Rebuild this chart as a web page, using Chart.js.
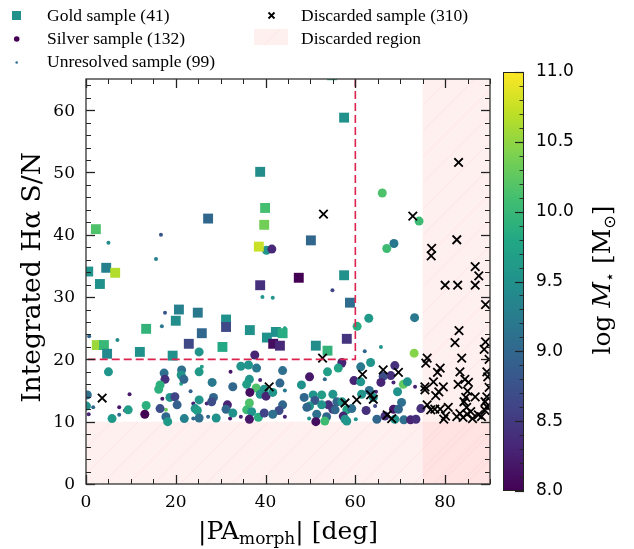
<!DOCTYPE html>
<html><head><meta charset="utf-8">
<script src="https://cdn.jsdelivr.net/npm/chart.js@4.4.0/dist/chart.umd.min.js"></script>
<style>html,body{margin:0;padding:0;background:#fff;}</style>
</head><body>
<canvas id="c" width="634" height="549"></canvas>
<script>
// ---------------- DATA ----------------
const xTicks = [0, 20, 40, 60, 80];
const yTicks = [0, 10, 20, 30, 40, 50, 60];
const cbTicks = [8.0, 8.5, 9.0, 9.5, 10.0, 10.5, 11.0];
const legendLabels = ["Gold sample (41)", "Silver sample (132)", "Unresolved sample (99)", "Discarded sample (310)", "Discarded region"];

const goldX = [54.8,57.5,38.8,39.9,39.7,50.1,27.2,2.2,38.5,47.4,57.5,38.8,58.8,0.5,4.5,6.5,3.1,20.7,24.9,20.0,13.4,31.2,31.2,25.8,36.5,40.3,42.3,43.8,41.7,43.2,30.4,51.2,53.8,58.1,2.4,4.0,4.7,22.9,12.0,19.3];
const goldY = [65.6,58.8,50.1,44.3,41.6,39.1,42.6,40.9,38.1,33.1,33.5,31.9,29.1,34.1,34.7,33.9,32.1,28.0,27.5,26.2,24.9,26.4,25.2,24.2,24.7,23.5,24.4,24.2,22.5,22.2,22.0,22.2,21.4,23.3,22.3,22.3,20.9,22.5,21.2,20.6];
const goldM = [9.9,9.5,9.45,10.1,10.35,9.0,9.0,10.15,10.75,8.0,9.5,8.4,9.05,9.55,9.3,10.65,9.5,9.3,9.2,9.45,9.95,9.5,8.65,9.0,9.5,9.5,9.5,9.85,8.1,8.35,9.8,9.45,9.95,8.45,10.55,10.0,9.4,8.65,9.5,9.5];

const silverX = [66.0,74.2,68.6,67.0,40.2,41.4,63.0,60.4,73.2,73.1,37.6,57.0,25.2,5.0,17.4,21.3,21.2,21.8,17.6,25.2,28.1,16.5,16.2,0.3,18.7,19.8,28.4,28.0,25.2,0.1,9.4,13.4,16.5,20.3,24.3,24.8,13.1,17.8,5.8,18.2,21.9,25.2,29.0,34.5,36.2,38.0,43.8,32.7,36.4,35.8,37.9,39.7,38.8,40.1,41.6,43.2,36.5,31.5,36.4,35.8,36.9,38.4,36.4,31.2,32.7,39.7,43.8,43.0,41.6,48.0,49.8,53.8,56.2,59.7,48.6,50.6,52.5,51.0,55.0,55.9,54.0,52.5,49.8,49.2,57.0,55.0,58.1,59.2,51.4,53.6,51.2,53.2,57.3,58.1,61.2,63.4,68.8,67.9,66.2,65.7,70.7,71.6,61.2,63.1,64.0,61.4,69.4,62.4,70.3,68.5,69.6,74.6,57.7,64.8,66.6,68.8,70.8,72.3,73.5,55.5];
const silverY = [46.7,42.2,38.6,37.8,37.5,37.7,26.6,25.3,26.7,21.0,20.7,19.5,21.2,18.0,17.8,18.3,17.5,16.8,16.8,18.0,16.3,15.9,15.2,14.3,13.9,14.0,13.9,13.2,13.5,12.5,11.9,12.6,12.1,12.7,12.1,11.8,11.2,10.8,10.5,10.0,10.5,10.6,10.6,18.9,19.1,18.6,18.2,15.6,16.8,16.0,15.4,15.2,14.4,14.1,14.7,16.2,14.7,12.7,13.0,11.9,11.6,10.7,10.4,12.0,11.4,11.4,12.7,11.8,11.2,15.9,17.2,18.0,18.6,16.6,13.9,14.3,14.3,13.4,14.4,13.2,12.7,12.7,12.5,12.3,13.2,12.0,11.9,12.1,11.2,10.8,10.0,10.1,10.9,10.1,18.8,19.5,19.0,17.4,17.3,16.3,16.0,16.4,16.4,15.0,13.9,14.4,14.8,11.8,13.1,12.0,12.0,12.1,10.4,10.4,10.9,10.4,10.3,10.3,10.4,11.9];
const silverM = [10.15,10.05,9.2,10.05,9.55,8.35,9.6,9.85,9.2,10.45,8.3,8.3,9.55,9.55,9.1,9.1,9.55,9.0,8.4,9.6,9.2,9.9,9.9,9.1,9.55,8.6,9.0,8.7,9.55,9.5,9.65,9.9,8.7,8.9,9.55,9.65,8.0,9.0,9.6,9.6,9.3,9.1,9.5,9.55,9.55,9.2,9.1,9.0,9.55,9.65,10.15,9.55,9.55,8.3,9.55,9.0,8.1,8.3,10.15,10.05,9.55,9.85,8.2,9.0,9.5,8.6,9.0,8.7,9.1,9.5,8.2,9.65,9.75,8.3,9.0,9.55,9.65,8.8,9.55,9.0,8.4,9.55,9.55,9.0,9.55,8.4,9.75,9.1,9.1,9.0,8.1,10.05,8.3,9.55,9.2,9.55,8.4,8.4,8.7,8.3,10.25,9.5,9.55,9.1,9.55,9.55,9.5,8.4,9.1,8.2,9.0,8.4,9.55,9.0,8.4,9.55,9.1,8.3,8.4,9.0];

const unresX = [16.7,5.0,15.6,17.6,16.9,54.9,39.3,41.6,44.3,0.7,7.0,25.8,21.2,23.3,9.7,17.0,23.9,26.9,1.6,7.4,8.7,17.8,0.6,7.4,23.9,27.2,32.2,38.8,44.3,32.1,44.3,53.2,57.3,60.1,49.7,65.7,62.1,64.6,68.5,73.3,64.4,34.5];
const unresY = [40.0,38.7,36.1,27.5,25.3,31.1,30.0,29.9,25.0,23.7,23.1,18.8,16.1,14.9,14.4,13.7,12.9,12.9,12.3,12.3,11.8,11.9,11.2,11.1,10.5,10.8,18.0,16.7,15.0,10.5,10.8,16.8,19.0,10.4,10.5,22.0,21.3,14.8,16.3,15.6,12.5,10.8];
const unresM = [8.8,9.45,9.3,8.8,9.2,8.6,9.55,9.55,9.65,9.0,9.45,9.65,9.75,8.9,8.2,8.2,8.3,8.3,9.0,8.2,8.3,10.3,8.3,9.0,9.0,9.0,8.2,8.3,9.2,8.2,8.3,9.0,8.4,9.55,9.55,9.55,9.0,8.3,8.3,8.3,8.6,8.3];

const discX = [3.6,40.8,52.9,52.7,57.7,60.3,61.6,66.2,69.6,63.4,64.0,67.1,68.1,72.8,83.0,77.0,76.9,82.6,86.7,87.5,80.0,82.8,86.7,89.0,83.1,82.2,89.0,88.7,83.7,76.0,75.7,78.9,78.3,83.3,89.3,89.5,84.4,85.2,82.9,77.4,75.5,75.5,79.6,78.6,77.9,85.0,84.6,86.7,89.3,84.2,84.8,88.9,89.3,76.0,76.8,77.7,78.9,80.7,79.7,80.1,82.6,83.3,84.0,84.9,85.7,86.1,87.4,88.1,88.9,89.8,89.8];
const discY = [13.8,15.6,43.3,20.2,13.0,13.5,17.6,18.3,17.9,14.3,13.6,11.1,10.5,43.0,51.6,37.8,36.6,39.2,34.9,33.4,31.9,31.9,31.9,28.8,24.6,22.7,22.8,21.6,20.2,20.2,19.4,18.6,17.9,18.0,18.0,17.2,16.8,16.3,16.0,16.4,15.6,15.1,15.6,14.8,14.2,14.9,13.9,14.0,14.0,13.2,12.3,13.2,12.4,12.7,11.9,12.0,12.0,12.3,10.4,10.9,10.8,11.3,10.7,11.2,11.6,10.5,11.1,10.8,11.8,15.5,20.0];

// ---------------- STYLE HELPERS ----------------
const VIR = ["#440154","#482475","#414487","#355f8d","#2a788e","#21918c","#22a884","#44bf70","#7ad151","#bddf26","#fde725"];
function hex2rgb(h){return [parseInt(h.slice(1,3),16),parseInt(h.slice(3,5),16),parseInt(h.slice(5,7),16)];}
const VIRRGB = VIR.map(hex2rgb);
function viridis(t){
  t = Math.max(0, Math.min(1, t));
  const f = t * 10, i = Math.min(9, Math.floor(f)), u = f - i;
  const a = VIRRGB[i], b = VIRRGB[i+1];
  return `rgb(${Math.round(a[0]+(b[0]-a[0])*u)},${Math.round(a[1]+(b[1]-a[1])*u)},${Math.round(a[2]+(b[2]-a[2])*u)})`;
}
const massColor = m => viridis((m - 8) / 3);
const pts = (xs, ys) => xs.map((x, i) => ({x, y: ys[i]}));

const SERIF = '"Liberation Serif", "DejaVu Serif", serif';
const DSERIF = '"DejaVu Serif", serif';
const SANS = '"DejaVu Sans", sans-serif';
const REGION_FILL = 'rgba(255,120,120,0.11)';
const DASH_COLOR = '#dc2450';

function hatchRect(ctx, x0, y0, w, h){
  ctx.save();
  ctx.fillStyle = REGION_FILL;
  ctx.fillRect(x0, y0, w, h);
  ctx.beginPath(); ctx.rect(x0, y0, w, h); ctx.clip();
  ctx.strokeStyle = 'rgba(255,140,140,0.13)';
  ctx.lineWidth = 1;
  const step = 26;
  for (let k = -h; k < w + h; k += step) {
    ctx.beginPath();
    ctx.moveTo(x0 + k, y0 + h);
    ctx.lineTo(x0 + k + h, y0);
    ctx.stroke();
  }
  ctx.restore();
}

const decor = {
  id: 'decor',
  beforeDatasetsDraw(chart){
    const {ctx, scales:{x, y}} = chart;
    const xa = x.getPixelForValue(75), xb = x.getPixelForValue(90);
    const yt = y.getPixelForValue(65), yb = y.getPixelForValue(0), y10 = y.getPixelForValue(10);
    hatchRect(ctx, xa, yt, xb - xa, yb - yt);
    const x0 = x.getPixelForValue(0);
    hatchRect(ctx, x0, y10, xb - x0, yb - y10);
  },
  afterDatasetsDraw(chart){
    const {ctx, scales:{x, y}} = chart;
    ctx.save();
    ctx.strokeStyle = DASH_COLOR; ctx.lineWidth = 1.6; ctx.setLineDash([8, 4]);
    ctx.beginPath();
    ctx.moveTo(x.getPixelForValue(60), y.getPixelForValue(65));
    ctx.lineTo(x.getPixelForValue(60), y.getPixelForValue(20));
    ctx.lineTo(x.getPixelForValue(0), y.getPixelForValue(20));
    ctx.stroke();
    ctx.restore();
  },
  afterDraw(chart){
    const {ctx, chartArea:a, scales:{x, y}} = chart;
    ctx.save();
    ctx.strokeStyle = '#222';
    const tick = (x1, y1, x2, y2, lw) => {ctx.lineWidth = lw; ctx.beginPath(); ctx.moveTo(x1, y1); ctx.lineTo(x2, y2); ctx.stroke();};
    for (let v = 0; v <= 90; v += 5) {
      const px = Math.round(x.getPixelForValue(v)) + 0.5;
      const major = v % 20 === 0; const L = major ? 9 : 5;
      tick(px, a.bottom, px, a.bottom - L, major ? 1.3 : 1);
      tick(px, a.top, px, a.top + L, major ? 1.3 : 1);
    }
    for (let v = 0; v <= 64; v += 2) {
      const py = Math.round(y.getPixelForValue(v)) + 0.5;
      const major = v % 10 === 0; const L = major ? 9 : 5;
      tick(a.left, py, a.left + L, py, major ? 1.3 : 1);
      tick(a.right, py, a.right - L, py, major ? 1.3 : 1);
    }
    ctx.lineWidth = 1.3; ctx.strokeStyle = '#333';
    ctx.strokeRect(a.left, a.top, a.right - a.left, a.bottom - a.top);
    // tick labels
    ctx.fillStyle = '#000';
    ctx.font = `17px ${DSERIF}`;
    ctx.textAlign = 'center'; ctx.textBaseline = 'middle';
    xTicks.forEach(v => ctx.fillText(String(v), x.getPixelForValue(v), 503));
    ctx.textAlign = 'right';
    yTicks.forEach(v => ctx.fillText(String(v), 75, y.getPixelForValue(v) + 1));
    // x title with subscript
    ctx.textBaseline = 'alphabetic';
    const segs = [["|PA", `25px ${DSERIF}`, 0], ["morph", `17px ${DSERIF}`, 5], ["| [deg]", `25px ${DSERIF}`, 0]];
    let tw = 0; segs.forEach(s => {ctx.font = s[1]; tw += ctx.measureText(s[0]).width;});
    let cx = (a.left + a.right) / 2 - tw / 2; ctx.textAlign = 'left';
    segs.forEach(s => {ctx.font = s[1]; ctx.fillText(s[0], cx, 539 + s[2]); cx += ctx.measureText(s[0]).width;});
    // y title
    ctx.save();
    ctx.translate(40, (a.top + a.bottom) / 2 - 4); ctx.rotate(-Math.PI / 2);
    ctx.font = `26.5px ${DSERIF}`; ctx.textAlign = 'center';
    ctx.fillText("Integrated H\u03b1 S/N", 0, 0);
    ctx.restore();

    // legend
    ctx.textAlign = 'left'; ctx.textBaseline = 'middle';
    ctx.fillStyle = massColor(9.5); ctx.fillRect(12, 11, 9, 9);
    ctx.fillStyle = massColor(8.0); ctx.beginPath(); ctx.arc(16.7, 39, 2.8, 0, 2 * Math.PI); ctx.fill();
    ctx.fillStyle = massColor(9.1); ctx.beginPath(); ctx.arc(16.7, 62.5, 1.3, 0, 2 * Math.PI); ctx.fill();
    ctx.strokeStyle = '#000'; ctx.lineWidth = 1.8;
    ctx.beginPath(); ctx.moveTo(268.5, 12.5); ctx.lineTo(274.5, 18.5); ctx.moveTo(274.5, 12.5); ctx.lineTo(268.5, 18.5); ctx.stroke();
    hatchRect(ctx, 254, 29, 34, 16);
    ctx.fillStyle = '#000';
    ctx.font = `17.5px ${SERIF}`;
    ctx.fillText(legendLabels[0], 47, 16);
    ctx.fillText(legendLabels[1], 47, 39);
    ctx.fillText(legendLabels[2], 47, 62.5);
    ctx.fillText(legendLabels[3], 301, 16);
    ctx.fillText(legendLabels[4], 301, 39);

    // colorbar
    const cbL = 503, cbR = 524, cbT = 72, cbB = 491;
    const cbPix = v => cbB - (v - 8) / 3 * (cbB - cbT);
    const g = ctx.createLinearGradient(0, cbB, 0, cbT);
    VIR.forEach((c, i) => g.addColorStop(i / 10, c));
    ctx.fillStyle = g; ctx.fillRect(cbL, cbT, cbR - cbL, cbB - cbT);
    ctx.strokeStyle = '#222'; ctx.lineWidth = 1;
    ctx.strokeRect(cbL + 0.5, cbT + 0.5, cbR - cbL - 1, cbB - cbT - 1);
    for (let k = 0; k <= 30; k++) {
      const v = 8 + k * 0.1; const py = Math.round(cbPix(v)) + 0.5;
      const major = k % 5 === 0; const L = major ? 9 : 4.5;
      tick(cbR, py, cbR - L, py, major ? 1.2 : 0.9);
    }
    ctx.fillStyle = '#000'; ctx.font = `17px ${SANS}`; ctx.textAlign = 'left'; ctx.textBaseline = 'middle';
    cbTicks.forEach(v => ctx.fillText(v.toFixed(1), 536, cbPix(v)));
    // colorbar label
    ctx.save();
    ctx.translate(610, 280); ctx.rotate(-Math.PI / 2);
    ctx.textBaseline = 'alphabetic';
    const lsegs = [["log ", `25px ${DSERIF}`, 0], ["M", `italic 25px ${DSERIF}`, 0], ["\u22c6", `16px "DejaVu Sans"`, 5], [" [M", `25px ${DSERIF}`, 0], ["\u2299", `16px "DejaVu Sans"`, 5], ["]", `25px ${DSERIF}`, 0]];
    let lw = 0; lsegs.forEach(s => {ctx.font = s[1]; lw += ctx.measureText(s[0]).width;});
    let lx = -lw / 2; ctx.textAlign = 'left';
    lsegs.forEach(s => {ctx.font = s[1]; ctx.fillText(s[0], lx, s[2]); lx += ctx.measureText(s[0]).width;});
    ctx.restore();
    ctx.restore();
  }
};

new Chart(document.getElementById('c'), {
  type: 'scatter',
  data: {
    datasets: [
      {label: legendLabels[3], data: pts(discX, discY), pointStyle: 'crossRot', pointRadius: 6, borderColor: '#000', borderWidth: 1.8, backgroundColor: '#000', clip: 0},
      {label: legendLabels[0], data: pts(goldX, goldY), pointStyle: 'rect', pointRadius: 7, borderWidth: 0, backgroundColor: goldM.map(massColor), clip: 0},
      {label: legendLabels[1], data: pts(silverX, silverY), pointStyle: 'circle', pointRadius: 4.5, borderWidth: 0, backgroundColor: silverM.map(massColor), clip: 0},
      {label: legendLabels[2], data: pts(unresX, unresY), pointStyle: 'circle', pointRadius: 2, borderWidth: 0, backgroundColor: unresM.map(massColor), clip: 0}
    ]
  },
  options: {
    responsive: false, animation: false, devicePixelRatio: 1,
    layout: {padding: {left: 86, right: 144, top: 79, bottom: 65}},
    scales: {
      x: {type: 'linear', min: 0, max: 90, display: false},
      y: {type: 'linear', min: 0, max: 65, display: false}
    },
    plugins: {legend: {display: false}, tooltip: {enabled: false}},
    elements: {point: {hoverRadius: 0}}
  },
  plugins: [decor]
});
</script>
</body></html>
